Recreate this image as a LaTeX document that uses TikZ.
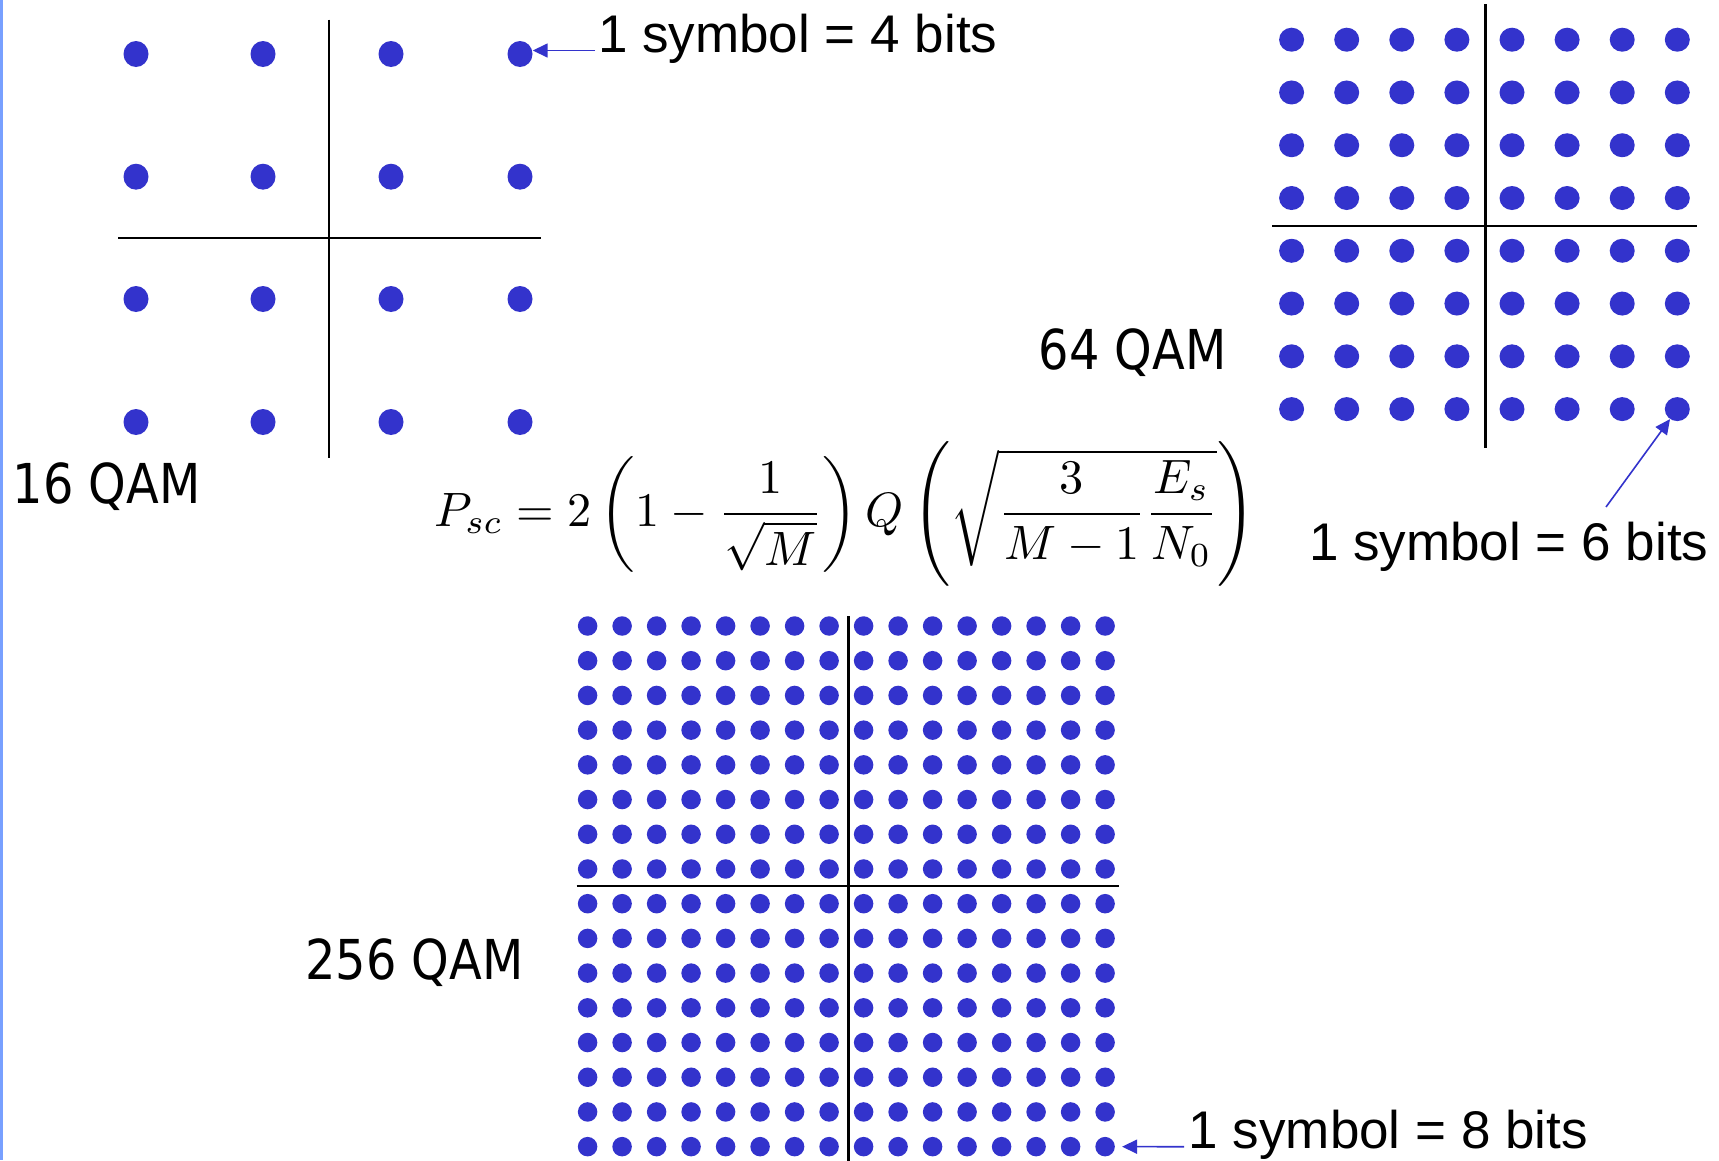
\documentclass[tikz,border=0pt]{standalone}
\usepackage[no-math]{fontspec}
\usepackage{graphicx}
\setmainfont{Liberation Sans}
\newfontfamily\qamfont[FakeStretch=0.87]{DejaVu Sans}
\usetikzlibrary{shapes.geometric,arrows.meta}
\definecolor{dotblue}{RGB}{51,51,204}
\definecolor{edgeblue}{RGB}{120,160,255}
\begin{document}
\begin{tikzpicture}[x=1pt,y=-1pt,
  dotA/.style={ellipse,fill=dotblue,inner sep=0pt,minimum width=25pt,minimum height=26pt},
  dotB/.style={ellipse,fill=dotblue,inner sep=0pt,minimum width=25pt,minimum height=24pt},
  dotC/.style={ellipse,fill=dotblue,inner sep=0pt,minimum width=19.5pt,minimum height=19.5pt},
  axis/.style={line width=2.3pt,black},
  arr/.style={draw=dotblue,line width=1.6pt,-{Triangle[length=15pt,width=14pt]}},
  lbl/.style={anchor=base west,inner sep=0pt,font=\fontsize{53}{60}\selectfont},
  qam/.style={anchor=base west,inner sep=0pt,font=\qamfont\fontsize{55}{60}\selectfont}]
\useasboundingbox (0,0) rectangle (1719,1160);
\fill[white] (0,0) rectangle (1719,1160);
\fill[edgeblue] (0,0) rectangle (2.5,1160);

% 16 QAM
\draw[axis] (329,19.5) -- (329,458);
\draw[axis] (118,238) -- (541,238);
\foreach \i/\x in {1/136,2/263,3/391,4/520}
  \foreach \j/\y in {1/54,2/176.7,3/299,4/422}
    \node[dotA] (a\i-\j) at (\x,\y) {};

% 64 QAM
\draw[axis] (1485.5,4) -- (1485.5,448);
\draw[axis] (1272,226) -- (1697,226);
\foreach \i in {1,...,8}
  \foreach \j in {1,...,8}
    \node[dotB] (b\i-\j) at ({1291.6+55.1*(\i-1)},{39.7+52.77*(\j-1)}) {};

% 256 QAM
\draw[axis] (848.5,616) -- (848.5,1165);
\draw[axis] (576.6,886) -- (1119,886);
\foreach \i in {1,...,16}
  \foreach \j in {1,...,16}
    \node[dotC] (c\i-\j) at ({587.6+34.5*(\i-1)},{626+34.71*(\j-1)}) {};

% labels
\node[qam] (q16) at (12.5,503) {16 QAM};
\node[qam] (q64) at (1038.5,369.5) {64 QAM};
\node[qam] (q256) at (305,979) {256 QAM};

\node[lbl] (t4) at (598,52) {1 symbol = 4 bits};
\node[lbl] (t6) at (1309,560) {1 symbol = 6 bits};
\node[lbl] (t8) at (1188.5,1148) {1 symbol = 8 bits};

\coordinate (s4) at (595,50.5);
\coordinate (s6) at (1606,507);
\coordinate (s8) at (1184,1146.7);
\draw[arr] (s4) -- (s4 -| a4-1.east);
\draw[arr] (s6) -- (b8-8);
\draw[arr,shorten >=7pt] (s8) -- (c16-16);

% formula
\node[inner sep=0pt] (f) at (845,514)
  {\resizebox{821pt}{!}{$\displaystyle P_{sc}=2\left(1-\frac{1}{\sqrt{M}}\right)Q\left(\sqrt{\frac{3}{M-1}\frac{E_s}{N_0}}\right)$}};
\end{tikzpicture}
\end{document}
